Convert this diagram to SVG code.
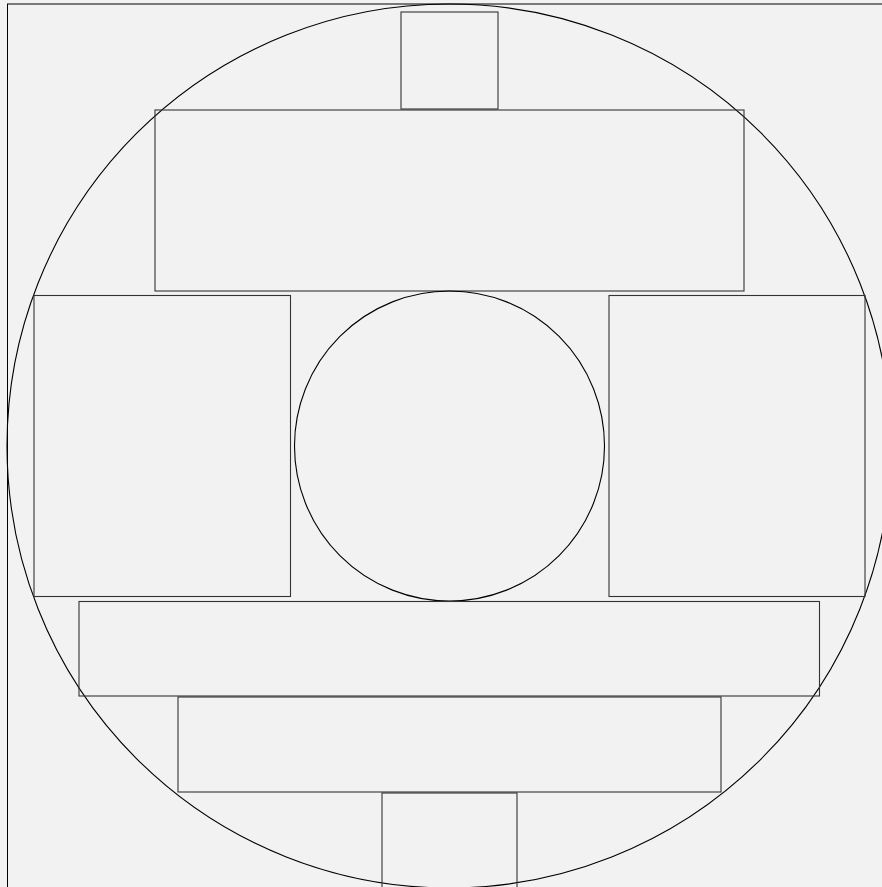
<svg xmlns="http://www.w3.org/2000/svg" width="882" height="887" viewBox="0 0 882 887">
<style>
.bx{fill:none;stroke:#333;stroke-width:1.1}
.c{fill:none;stroke:#000;stroke-width:1.1}
</style>
<rect x="0" y="0" width="882" height="887" fill="#f2f2f2"/>
<rect x="7.5" y="4" width="900" height="900" fill="none" stroke="#000" stroke-width="1"/>
<g id="outer-circle"><circle class="c" cx="449" cy="446" r="442"/></g>
<g id="top-square"><rect class="bx" x="401" y="12" width="97" height="97"/></g>
<g id="top-wide"><rect class="bx" x="155" y="110" width="589" height="181"/></g>
<g id="left-rect"><rect class="bx" x="34" y="295.5" width="256.5" height="301"/></g>
<g id="right-rect"><rect class="bx" x="609" y="295.5" width="256" height="301"/></g>
<g id="center-circle"><circle class="c" cx="449.5" cy="446" r="155"/></g>
<g id="lower-wide"><rect class="bx" x="79" y="601.5" width="740.5" height="94.5"/></g>
<g id="lower-mid"><rect class="bx" x="178" y="697" width="543" height="95"/></g>
<g id="bottom-rect"><rect class="bx" x="382" y="793" width="135" height="120"/></g>
<g id="connectors"></g>
</svg>
